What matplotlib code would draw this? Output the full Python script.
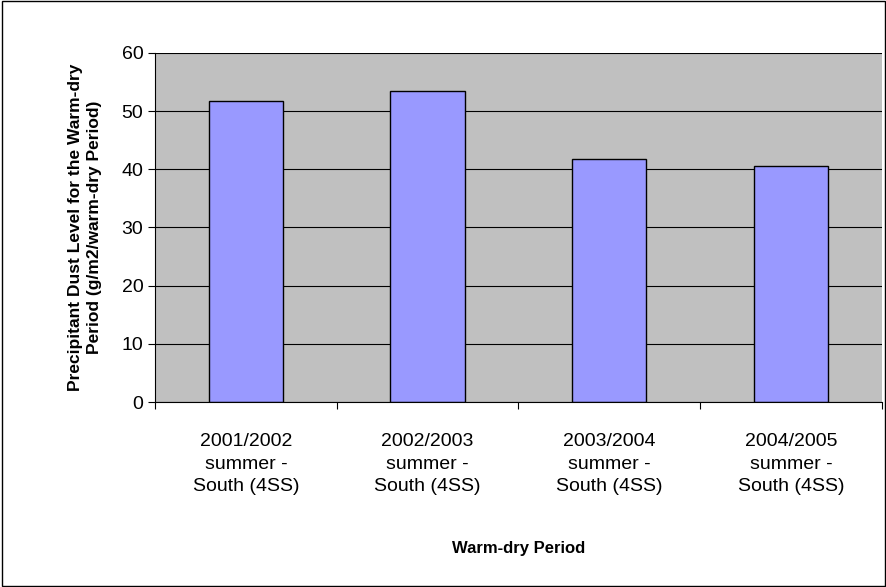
import matplotlib.pyplot as plt
import numpy as np

categories = ['2001/2002\nsummer -\nSouth (4SS)', '2002/2003\nsummer -\nSouth (4SS)',
              '2003/2004\nsummer -\nSouth (4SS)', '2004/2005\nsummer -\nSouth (4SS)']
values = [51.8, 53.5, 41.8, 40.6]

fig = plt.figure(figsize=(8.87, 5.87), dpi=100)
ax = fig.add_axes([0.175, 0.315, 0.819, 0.595])
fig.patches.append(plt.Rectangle((0.002, 0.002), 0.996, 0.996, transform=fig.transFigure,
                                 fill=False, edgecolor='black', linewidth=1))

x = np.arange(len(categories))
ax.set_facecolor('#c0c0c0')
ax.set_axisbelow(True)
ax.grid(True, axis='y', color='black', linewidth=0.8)
ax.bar(x, values, width=0.41, color='#9999ff', edgecolor='black', linewidth=1)

ax.set_xlim(-0.5, len(categories) - 0.5)
ax.set_ylim(0, 60)
ax.set_yticks(range(0, 61, 10))
ax.set_xticks(np.arange(-0.5, len(categories), 1), minor=False)
ax.set_xticklabels([])
ax.set_xticks(x, minor=True)
ax.set_xticklabels(categories, minor=True, fontsize=14, family='Liberation Sans', linespacing=1.45)
ax.tick_params(axis='x', which='minor', length=0, pad=22)
ax.tick_params(axis='x', which='major', length=5, direction='out')
ax.tick_params(axis='y', labelsize=14, length=5, direction='out')
for lab in ax.get_yticklabels():
    lab.set_family('Liberation Sans')
for s in ['top', 'right']:
    ax.spines[s].set_visible(False)

ax.set_xlabel('Warm-dry Period', fontsize=12, fontweight='bold', family='Liberation Sans', labelpad=33)
ax.set_ylabel('Precipitant Dust Level for the Warm-dry\nPeriod (g/m2/warm-dry Period)',
              fontsize=12.5, fontweight='bold', family='Liberation Sans', labelpad=14, linespacing=1.3)

fig.savefig('out.png', dpi=100)
